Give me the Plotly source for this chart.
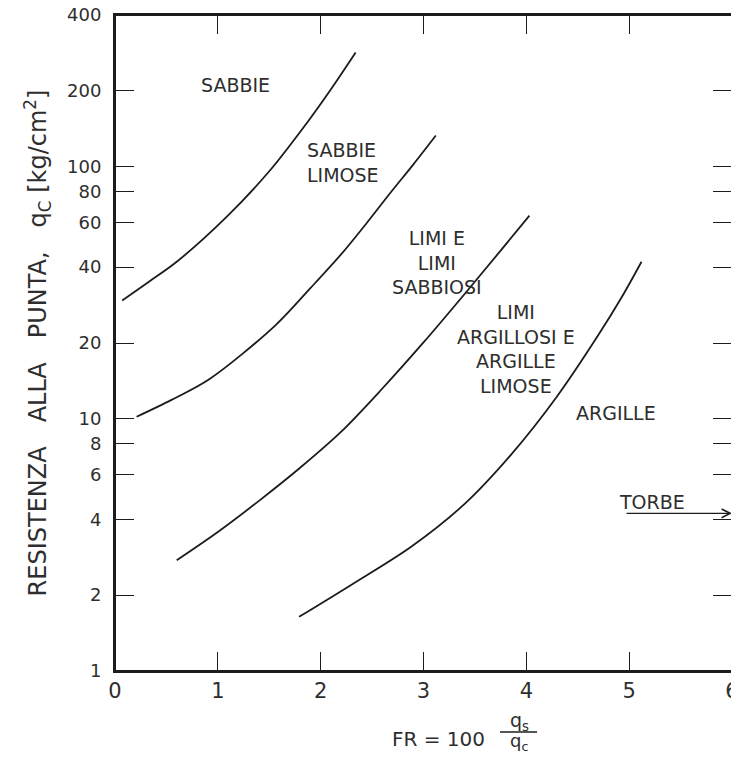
import math
import plotly.graph_objects as go

# ---- data (FR in %, qc in kg/cm2) ----
fr_sabbie = [0.07, 0.33, 0.6, 1.08, 1.5, 1.88, 2.1, 2.34]
qc_sabbie = [29.5, 35, 42, 63, 96, 152, 203, 284]

fr_sabbie_limose = [0.21, 0.55, 0.92, 1.56, 1.9, 2.2, 2.45, 2.69, 2.9, 3.12]
qc_sabbie_limose = [10.2, 11.9, 14.4, 23.5, 33, 45, 60, 80, 102, 133]

fr_limi = [0.6, 1.0, 1.4, 1.8, 2.2, 2.6, 3.0, 3.4, 3.75, 4.03]
qc_limi = [2.75, 3.56, 4.73, 6.4, 8.9, 13.2, 20.1, 31.3, 46.5, 64]

fr_argille = [1.79, 2.3, 2.88, 3.4, 3.85, 4.3, 4.7, 4.93, 5.12]
qc_argille = [1.64, 2.2, 3.11, 4.6, 7.2, 12.3, 21.5, 30.5, 42]

fr_torbe = [4.96, 6.0]
qc_torbe = [4.22, 4.22]

x_tickvals = [0, 1, 2, 3, 4, 5, 6]
y_tickvals = [1, 2, 4, 6, 8, 10, 20, 40, 60, 80, 100, 200, 400]
y_ticktext = ["1", "2", "4", "6", "8", "10", "20", "40", "60", "80", "100", "200", "400"]

zone_names = ["SABBIE", "SABBIE<br>LIMOSE", "LIMI E<br>LIMI<br>SABBIOSI",
              "LIMI<br>ARGILLOSI E<br>ARGILLE<br>LIMOSE", "ARGILLE", "TORBE"]

LINE = "#1c1c1c"
TEXT = "#2e2e2e"
FONT = "DejaVu Sans"

fig = go.Figure()
for xs, ys in [(fr_sabbie, qc_sabbie), (fr_sabbie_limose, qc_sabbie_limose),
               (fr_limi, qc_limi), (fr_argille, qc_argille)]:
    fig.add_trace(go.Scatter(x=xs, y=ys, mode="lines",
                             line=dict(color=LINE, width=1.8, shape="spline", smoothing=0.9),
                             showlegend=False, hoverinfo="skip"))

# zone labels: (text, x, y, xanchor, align)
label_pos = [
    (zone_names[0], 1.17, 212, "center", "center"),
    (zone_names[1], 1.85, 104, "left", "left"),
    (zone_names[2], 3.13, 41.8, "center", "center"),
    (zone_names[3], 3.9, 18.9, "center", "center"),
    (zone_names[4], 4.87, 10.6, "center", "center"),
    (zone_names[5], 5.22, 4.7, "center", "center"),
]
annotations = []
for text, x, y, xa, al in label_pos:
    annotations.append(dict(text=text, x=x, y=math.log10(y), xref="x", yref="y",
                            xanchor=xa, yanchor="middle", align=al, showarrow=False,
                            font=dict(family=FONT, size=19, color=TEXT)))

# TORBE arrow
annotations.append(dict(text="", x=fr_torbe[1], y=math.log10(qc_torbe[1]), xref="x", yref="y",
                        ax=fr_torbe[0], ay=math.log10(qc_torbe[0]), axref="x", ayref="y",
                        showarrow=True, arrowhead=5, arrowsize=1.2, arrowwidth=1.4,
                        arrowcolor=LINE, standoff=0, startstandoff=0))

# page geometry (the page body adds an 8px offset)
OFF = 8
W, H = 739 - OFF, 764 - 2 * OFF
L, R, T = 107, 7, 7
B = H - (671 - OFF)
pw, ph = W - L - R, H - T - B

def px(xs):
    return (xs - OFF - L) / pw

def py(ys):
    return (H - B - (ys - OFF)) / ph

# x-axis title: FR = 100 qs/qc
annotations.append(dict(text="FR = 100", x=px(438), y=py(739), xref="paper", yref="paper",
                        xanchor="center", yanchor="middle", showarrow=False,
                        font=dict(family=FONT, size=20, color=TEXT)))
annotations.append(dict(text="q<sub>s</sub>", x=px(519), y=py(722), xref="paper", yref="paper",
                        xanchor="center", yanchor="middle", showarrow=False,
                        font=dict(family=FONT, size=19, color=TEXT)))
annotations.append(dict(text="q<sub>c</sub>", x=px(519), y=py(742), xref="paper", yref="paper",
                        xanchor="center", yanchor="middle", showarrow=False,
                        font=dict(family=FONT, size=18, color=TEXT)))

fig.add_shape(type="line", xref="paper", yref="paper",
              x0=px(500), x1=px(537), y0=py(732), y1=py(732),
              line=dict(color=LINE, width=1.3))

# full frame around the plotting area
fig.add_shape(type="rect", xref="paper", yref="paper", x0=0, x1=1, y0=0, y1=1,
              line=dict(color=LINE, width=2), fillcolor="rgba(0,0,0,0)", layer="above")

axis_common = dict(showgrid=False, zeroline=False, showline=True, linecolor=LINE,
                   linewidth=2, mirror="allticks", ticks="inside", ticklen=19,
                   tickwidth=1.4, tickcolor=LINE, ticklabeloverflow="allow",
                   automargin=False)

fig.update_layout(
    width=W, height=H,
    margin=dict(l=L, r=R, t=T, b=B),
    paper_bgcolor="white", plot_bgcolor="white",
    xaxis=dict(range=[0, 6], tickvals=x_tickvals, ticklabelstandoff=0,
               tickfont=dict(family=FONT, size=21, color=TEXT), **axis_common),
    yaxis=dict(type="log", range=[0, math.log10(400)], tickvals=y_tickvals,
               ticktext=y_ticktext, ticklabelstandoff=8,
               tickfont=dict(family=FONT, size=18, color=TEXT),
               title=dict(text="RESISTENZA\u2003ALLA\u2003PUNTA,\u2003q<sub>C</sub> [kg/cm<sup>2</sup>]",
                          font=dict(family=FONT, size=24, color=TEXT), standoff=14),
               **axis_common),
    annotations=annotations,
)

fig.write_html("out.html")
